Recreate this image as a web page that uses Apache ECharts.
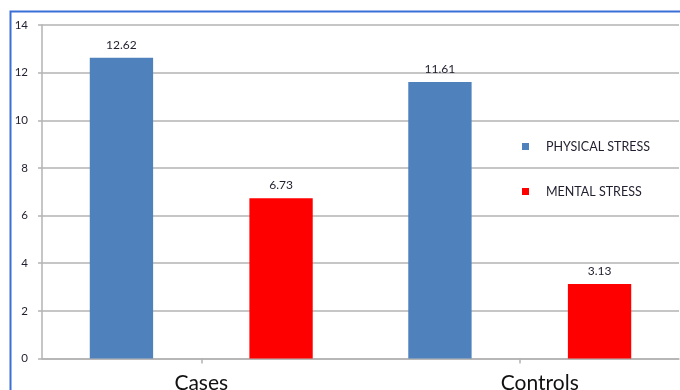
<!DOCTYPE html>
<html>
<head>
<meta charset="utf-8">
<script src="https://cdn.jsdelivr.net/npm/echarts@6/dist/echarts.min.js"></script>
<style>
  html, body { margin: 0; padding: 0; background: #ffffff; }
  #chart { width: 680px; height: 390px; }
</style>
</head>
<body>
<div id="chart"></div>
<script>
// Stress scores by group
const categories = ['Cases', 'Controls'];
const physicalStress = [12.62, 11.61];
const mentalStress = [6.73, 3.13];
const seriesNames = ['PHYSICAL STRESS', 'MENTAL STRESS'];
const yTicks = { min: 0, max: 14, interval: 2 };

const chart = echarts.init(document.getElementById('chart'), null, { renderer: 'canvas' });

const font = 'Lato, "Open Sans", sans-serif';
const gridColor = '#b3b3b3';
const textColor = '#1f1f2f';

chart.setOption({
  backgroundColor: '#ffffff',
  animation: false,
  graphic: [{
    type: 'polyline',
    shape: { points: [[10.5, 390], [10.5, 11.5], [680, 11.5]] },
    style: { stroke: '#3a6fd8', lineWidth: 2, fill: null },
    silent: true
  }],
  grid: { left: 42, right: 1, top: 25, bottom: 31.5, containLabel: false, outerBoundsMode: 'none' },
  legend: {
    orient: 'vertical',
    left: 517,
    top: 135,
    icon: 'rect',
    itemWidth: 7,
    itemHeight: 7,
    itemGap: 32,
    data: seriesNames,
    textStyle: { fontFamily: font, fontSize: 12.5, color: textColor, padding: [0, 0, 0, 12] }
  },
  xAxis: {
    type: 'category',
    data: [categories[0], { value: categories[1], textStyle: { padding: [0, 0, 0, 40] } }],
    axisLine: { lineStyle: { color: gridColor, width: 1.5 } },
    axisTick: { show: true, alignWithLabel: true, length: 5, lineStyle: { color: gridColor, width: 1.5 } },
    axisLabel: { fontFamily: font, fontSize: 21, color: '#111111', margin: 14 }
  },
  yAxis: {
    type: 'value',
    min: yTicks.min,
    max: yTicks.max,
    interval: yTicks.interval,
    axisLine: { show: true, lineStyle: { color: gridColor, width: 1.5 } },
    axisTick: { show: true, length: 4, lineStyle: { color: gridColor, width: 1.5 } },
    splitLine: { lineStyle: { color: gridColor, width: 1.5 } },
    axisLabel: { fontFamily: font, fontSize: 11.5, color: textColor, margin: 14 }
  },
  series: [
    {
      name: seriesNames[0],
      type: 'bar',
      data: physicalStress,
      barCategoryGap: '30%',
      barGap: '152%',
      itemStyle: { color: '#4f81bd' },
      label: { show: true, position: 'top', distance: 7, fontFamily: font, fontSize: 12, color: textColor }
    },
    {
      name: seriesNames[1],
      type: 'bar',
      data: mentalStress,
      barCategoryGap: '30%',
      barGap: '152%',
      itemStyle: { color: '#ff0000' },
      label: { show: true, position: 'top', distance: 7, fontFamily: font, fontSize: 12, color: textColor }
    }
  ]
});
</script>
</body>
</html>
